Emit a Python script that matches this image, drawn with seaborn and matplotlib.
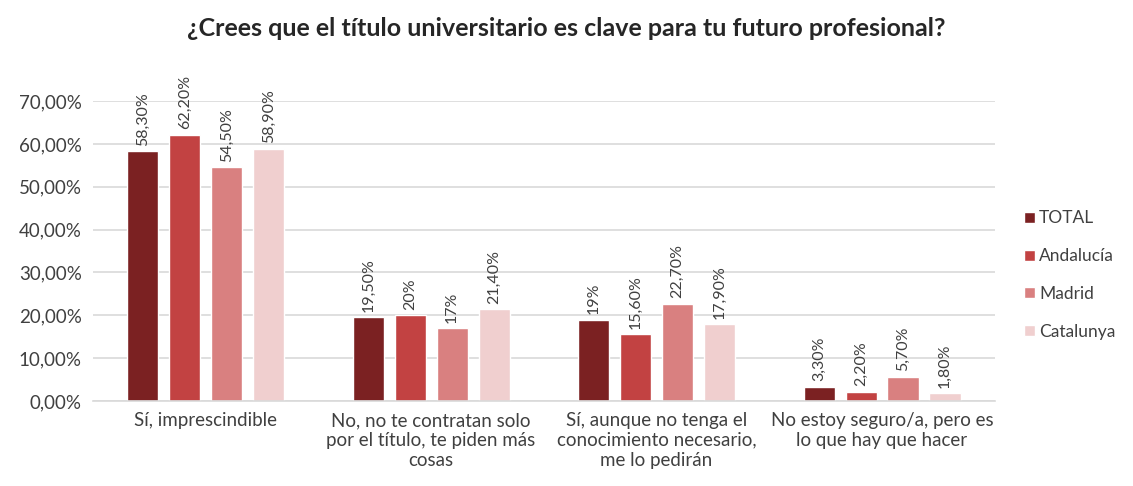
import numpy as np
import pandas as pd
import matplotlib.pyplot as plt
import seaborn as sns

sns.set_theme(style="white")
plt.rcParams['font.family'] = ['Lato', 'DejaVu Sans']

categories = ["Sí, imprescindible",
              "No, no te contratan solo\npor el título, te piden más\ncosas",
              "Sí, aunque no tenga el\nconocimiento necesario,\nme lo pedirán",
              "No estoy seguro/a, pero es\nlo que hay que hacer"]
regions = ["TOTAL", "Andalucía", "Madrid", "Catalunya"]
total = [58.3, 19.5, 19.0, 3.3]
andalucia = [62.2, 20.0, 15.6, 2.2]
madrid = [54.5, 17.0, 22.7, 5.7]
catalunya = [58.9, 21.4, 17.9, 1.8]
labels = [["58,30%", "19,50%", "19%", "3,30%"],
          ["62,20%", "20%", "15,60%", "2,20%"],
          ["54,50%", "17%", "22,70%", "5,70%"],
          ["58,90%", "21,40%", "17,90%", "1,80%"]]
colors = ["#7B2122", "#C24242", "#D98080", "#F0CFCF"]

rows = []
for reg, vals in zip(regions, [total, andalucia, madrid, catalunya]):
    for cat, v in zip(categories, vals):
        rows.append({"cat": cat, "region": reg, "value": v})
df = pd.DataFrame(rows)

fig = plt.figure(figsize=(11.33, 4.86), dpi=100)
ax = fig.add_axes([0.082, 0.175, 0.796, 0.617])
sns.barplot(data=df, x="cat", y="value", hue="region", palette=colors,
            width=0.745, gap=0.26, ax=ax, saturation=1)

for cont, labs in zip(ax.containers, labels):
    ax.bar_label(cont, labels=labs, rotation=90, padding=4, fontsize=11.5, color="#404040")

ax.set_ylim(0, 70)
ax.set_xlim(-0.5, 3.5)
ax.set_yticks(np.arange(0, 71, 10))
ax.set_yticklabels([f"{v},00%" for v in range(0, 71, 10)], fontsize=13.5, color="#404040")
ax.tick_params(axis='x', labelsize=13.5, labelcolor="#404040", length=0, pad=8)
ax.tick_params(axis='y', length=0, pad=8)
ax.yaxis.grid(True, color="#D9D9D9", linewidth=1.2)
ax.set_axisbelow(True)
for s in ["top", "right", "left"]:
    ax.spines[s].set_visible(False)
ax.spines["bottom"].set_color("#D9D9D9")
ax.spines["bottom"].set_linewidth(1.2)
ax.set_xlabel("")
ax.set_ylabel("")

ax.legend(loc="center left", bbox_to_anchor=(1.025, 0.42), frameon=False,
          fontsize=12.5, labelcolor="#404040", handlelength=0.6, handleheight=0.6,
          handletextpad=0.25, labelspacing=1.25, borderaxespad=0)

fig.suptitle("¿Crees que el título universitario es clave para tu futuro profesional?",
             fontsize=18, fontweight="bold", color="#262626", y=0.965)

fig.savefig("out.png", dpi=100)
